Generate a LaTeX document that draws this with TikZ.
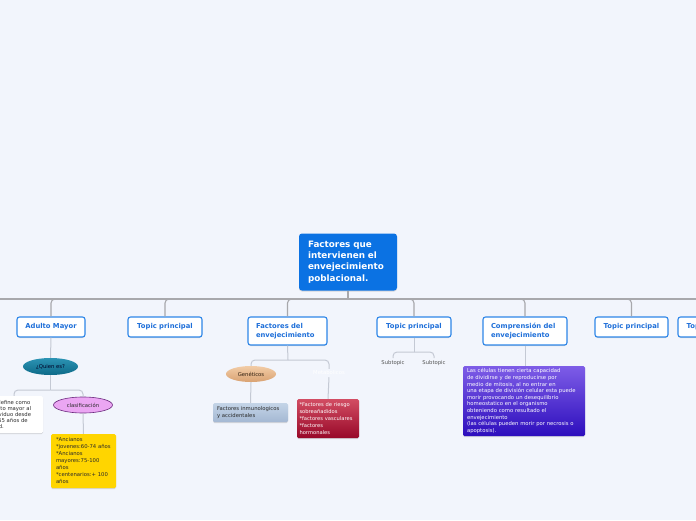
\documentclass[tikz,border=0pt]{standalone}
\usepackage{fontspec}
\setmainfont{DejaVu Sans}
\usetikzlibrary{shapes.geometric,shadows}
\definecolor{bgc}{HTML}{F2F5FC}
\definecolor{mainc}{HTML}{0B72E3}
\definecolor{topicb}{HTML}{2E86E8}
\definecolor{topict}{HTML}{1E6FD9}
\definecolor{busc}{HTML}{A8A8AC}
\definecolor{linec}{HTML}{C4C9D4}
\definecolor{tealtop}{HTML}{2C93B4}
\definecolor{tealbot}{HTML}{0D6A88}
\definecolor{pinkc}{HTML}{EBA6F3}
\definecolor{pinkb}{HTML}{6B2A7E}
\definecolor{gentop}{HTML}{F2CCA6}
\definecolor{genbot}{HTML}{D9A272}
\definecolor{steeltop}{HTML}{C4D4E7}
\definecolor{steelbot}{HTML}{A4B8D3}
\definecolor{redtop}{HTML}{D24D63}
\definecolor{redbot}{HTML}{980828}
\definecolor{purtop}{HTML}{7E5DE7}
\definecolor{purbot}{HTML}{2D0EBD}
\definecolor{yellowc}{HTML}{FFD500}
\definecolor{darkt}{HTML}{2A2A2A}
\tikzset{
  softshadow/.style={drop shadow={shadow xshift=0pt,shadow yshift=-1pt,opacity=0.22,fill=black!60}},
  mainbox/.style={fill=mainc, rounded corners=3pt, text=white, align=left, text width=80pt,
    inner xsep=9pt, inner ysep=0pt, minimum height=57pt,
    font=\fontsize{8.8}{11.2}\selectfont\bfseries, softshadow},
  topic/.style={draw=topicb, line width=1.1pt, fill=white, rounded corners=2.5pt, text=topict,
    font=\fontsize{6.8}{8.3}\selectfont\bfseries, inner sep=0pt, minimum height=20pt, softshadow},
  topictwo/.style={topic, align=left, inner xsep=8pt, minimum height=28pt},
  smallf/.style={font=\fontsize{5.3}{6.6}\selectfont},
  bus/.style={draw=busc, line width=1.1pt},
  conn/.style={draw=linec, line width=1pt, rounded corners=4pt},
  oval/.style={ellipse, inner sep=0pt, smallf, text=darkt},
  card/.style={rounded corners=1.5pt, smallf, align=left, inner ysep=0pt, softshadow}
}
\begin{document}
\begin{tikzpicture}[x=1pt,y=-1pt]
\useasboundingbox (0,0) rectangle (696,520);
\clip (0,0) rectangle (696,520);
\fill[bgc] (0,0) rectangle (696,520);

% main
\node[mainbox] (main) at (348,262) {Factores que\\intervienen el\\envejecimiento\\poblacional.};

% first-level topics
\node[topic, minimum width=68pt] (adult) at (51,327) {Adulto Mayor};
\node[topic, minimum width=74pt] (tp2) at (165,327) {Topic principal};
\node[topictwo, text width=63pt] (fact) at (287.5,331) {Factores del\\envejecimiento};
\node[topictwo, text width=68pt] (comp) at (525,331) {Comprensión del\\envejecimiento};
\node[topic, minimum width=74pt] (tp4) at (414,327) {Topic principal};
\node[topic, minimum width=73pt] (tp6) at (631.5,327) {Topic principal};
\node[topic, minimum width=73pt] (tp7) at (714.5,327) {Topic principal};

\coordinate (hub) at (348,299);
\coordinate (busL) at (0,299);
\coordinate (busR) at (696,299);
\draw[bus] (main.south) -- (hub);
\draw[bus] (hub) -- (busL);
\draw[bus] (hub) -- (busR);
\foreach \c in {adult,tp2,fact,tp4,comp,tp6}{
  \draw[bus, rounded corners=4pt] (hub) -| (\c.north);
}

% Adulto Mayor branch
\node[oval, minimum width=55pt, minimum height=17pt, top color=tealtop, bottom color=tealbot,
  text=black!85!blue] (quien) at (50.5,366.5) {¿Quien es?};
\draw[conn] (adult.south) -- (quien.north);
\coordinate (qhub) at (50.5,390);
\draw[conn] (quien.south) -- (qhub);
\node[card, fill=white, minimum width=58pt, minimum height=37pt, text width=50pt,
  inner xsep=4pt, font=\fontsize{5.3}{6}\selectfont, text=darkt] (defbox) at (14,414.5)
  {Se define como\\adulto mayor al\\individuo desde\\los 65 años de\\edad.};
\node[oval, minimum width=59pt, minimum height=16pt, fill=pinkc, draw=pinkb, line width=0.6pt]
  (clas) at (83,405) {clasificación};
\draw[conn] (qhub) -| (defbox.north);
\draw[conn] (qhub) -| (clas.north);
\node[card, fill=yellowc, minimum height=54pt, text width=55pt, inner xsep=5pt, text=darkt,
  font=\fontsize{5.3}{7}\selectfont] (yel) at (83.5,461)
  {{*}Ancianos\\{*}jovenes:60-74 años\\{*}Ancianos\\mayores:75-100\\años\\{*}centenarios:+ 100\\años};
\draw[conn] (clas.south) -- (yel.north);

% Factores del envejecimiento branch
\coordinate (fhub) at (288,360);
\draw[conn] (fact.south) -- (fhub);
\node[oval, minimum width=50pt, minimum height=16pt, top color=gentop, bottom color=genbot,
  text=black!75!brown] (gen) at (251,374) {Genéticos};
\node[smallf, text=white, inner sep=2pt] (metab) at (329,373) {Metabolicos};
\draw[conn] (fhub) -| (gen.north);
\draw[conn] (fhub) -| (metab.north);
\node[card, top color=steeltop, bottom color=steelbot, minimum height=19pt, text width=67pt,
  inner xsep=4pt, text=darkt] (inmun) at (250.5,412.5) {Factores inmunologicos\\y accidentales};
\draw[conn] (gen.south) -- (inmun.north);
\node[card, top color=redtop, bottom color=redbot, minimum height=39pt, text width=57pt,
  inner xsep=2.5pt, text=white, font=\fontsize{5.2}{7}\selectfont] (red) at (328,418.5)
  {{*}Factores de riesgo\\sobreañadidos\\{*}factores vasculares\\{*}factores\\hormonales};
\draw[conn] (metab.south) -- (red.north);

% Topic principal subtopics
\coordinate (shub) at (414,352);
\draw[conn] (tp4.south) -- (shub);
\node[smallf, text=darkt!80, inner sep=2pt] (sub1) at (393,363) {Subtopic};
\node[smallf, text=darkt!80, inner sep=2pt] (sub2) at (434,363) {Subtopic};
\draw[conn] (shub) -| (sub1.north);
\draw[conn] (shub) -| (sub2.north);

% Comprension branch
\node[card, top color=purtop, bottom color=purbot, minimum height=70pt, text width=114pt,
  inner xsep=4pt, text=white] (cel) at (524,401)
  {Las células tienen cierta capacidad\\de dividirse y de reproducirse por\\medio de mitosis, al no entrar en\\una etapa de división celular esta puede\\morir provocando un desequilibrio\\homeostatico en el organismo\\obteniendo como resultado el\\envejecimiento\\(las células pueden morir por necrosis o\\apoptosis).};
\draw[conn] (comp.south) -- (comp.south |- cel.north);
\end{tikzpicture}
\end{document}
